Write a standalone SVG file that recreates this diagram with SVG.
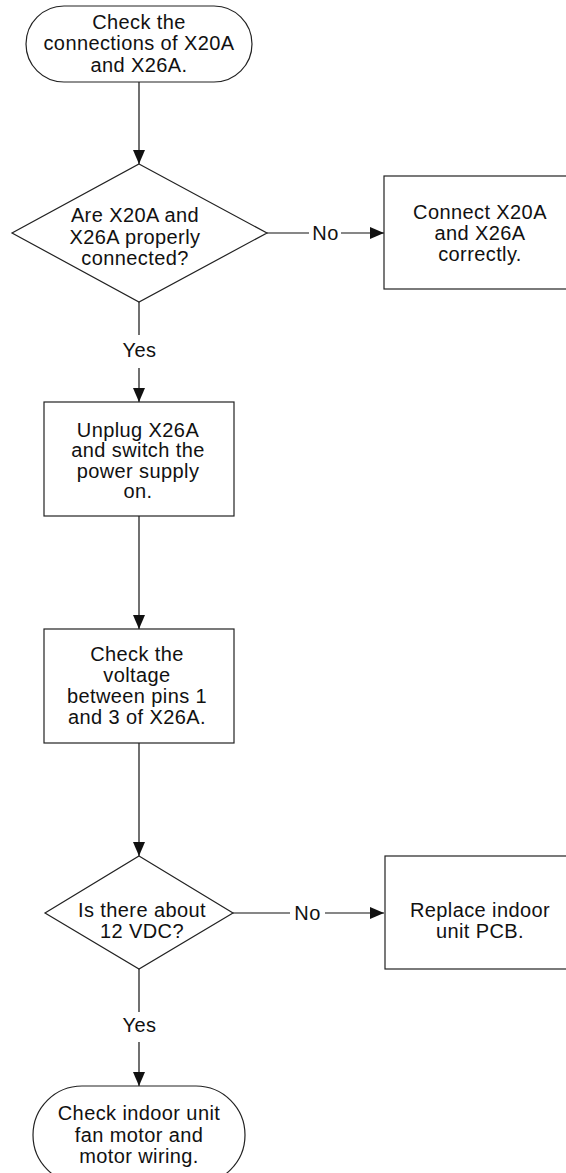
<svg xmlns="http://www.w3.org/2000/svg" width="566" height="1173" viewBox="0 0 566 1173">
  <defs>
    <marker id="arrow" markerUnits="userSpaceOnUse" markerWidth="14" markerHeight="12" viewBox="0 0 14 12" refX="14" refY="6" orient="auto">
      <path d="M0,0 L14,6 L0,12 Z" fill="#111"/>
    </marker>
    <style>
      .shape { fill: #fff; stroke: #222; stroke-width: 1.2; }
      .line { fill: none; stroke: #111; stroke-width: 1.2; }
      .arrow { fill: none; stroke: #111; stroke-width: 1.2; marker-end: url(#arrow); }
      text { font-family: "Liberation Sans", Arial, sans-serif; font-size: 20px; letter-spacing: 0.4px; fill: #111; text-anchor: middle; }
    </style>
  </defs>
  <rect width="566" height="1173" fill="#fff"/>

  <!-- connectors -->
  <g id="connectors">
    <line class="arrow" x1="139" y1="82" x2="139" y2="164"/>
    <line class="line" x1="267" y1="233" x2="309" y2="233"/>
    <text x="325.5" y="239.5">No</text>
    <line class="arrow" x1="341" y1="233" x2="384" y2="233"/>
    <line class="line" x1="139" y1="302" x2="139" y2="335"/>
    <text x="139.5" y="357">Yes</text>
    <line class="arrow" x1="139" y1="368" x2="139" y2="402"/>
    <line class="arrow" x1="139" y1="516" x2="139" y2="629"/>
    <line class="arrow" x1="139" y1="743" x2="139" y2="856"/>
    <line class="line" x1="233" y1="913" x2="290" y2="913"/>
    <text x="307.5" y="919.5">No</text>
    <line class="arrow" x1="325" y1="913" x2="384" y2="913"/>
    <line class="line" x1="139" y1="969" x2="139" y2="1012"/>
    <text x="139.5" y="1032">Yes</text>
    <line class="arrow" x1="139" y1="1042" x2="139" y2="1086"/>
  </g>

  <!-- start: check connections -->
  <g id="start">
    <rect class="shape" x="26" y="6" width="226" height="76" rx="38" ry="38"/>
    <text x="139" y="28.5">Check the</text>
    <text x="139" y="50">connections of X20A</text>
    <text x="139" y="71.5">and X26A.</text>
  </g>

  <!-- decision: connectors seated -->
  <g id="decision-connected">
    <polygon class="shape" points="139,164 267,233 139,302 12,233"/>
    <text x="135" y="222">Are X20A and</text>
    <text x="135" y="243.5">X26A properly</text>
    <text x="135" y="265">connected?</text>
  </g>

  <!-- action: reconnect -->
  <g id="reconnect">
    <rect class="shape" x="384" y="176" width="192" height="113"/>
    <text x="480" y="219">Connect X20A</text>
    <text x="480" y="240">and X26A</text>
    <text x="480" y="261">correctly.</text>
  </g>

  <!-- action: unplug and power on -->
  <g id="unplug">
    <rect class="shape" x="44" y="402" width="190" height="114"/>
    <text x="138" y="436.5">Unplug X26A</text>
    <text x="138" y="457">and switch the</text>
    <text x="138" y="477.5">power supply</text>
    <text x="138" y="498">on.</text>
  </g>

  <!-- action: measure voltage -->
  <g id="measure">
    <rect class="shape" x="44" y="629" width="190" height="114"/>
    <text x="137" y="661">Check the</text>
    <text x="137" y="681.5">voltage</text>
    <text x="137" y="703">between pins 1</text>
    <text x="137" y="724">and 3 of X26A.</text>
  </g>

  <!-- decision: 12 VDC present -->
  <g id="decision-voltage">
    <polygon class="shape" points="139,856 233,913 139,969 45,913"/>
    <text x="142" y="917">Is there about</text>
    <text x="142" y="938">12 VDC?</text>
  </g>

  <!-- action: replace PCB -->
  <g id="replace-pcb">
    <rect class="shape" x="385" y="856" width="191" height="113"/>
    <text x="480" y="917">Replace indoor</text>
    <text x="480" y="938">unit PCB.</text>
  </g>

  <!-- end: check fan motor -->
  <g id="end">
    <rect class="shape" x="33" y="1086" width="212" height="98" rx="49" ry="49"/>
    <text x="139" y="1120">Check indoor unit</text>
    <text x="139" y="1141.5">fan motor and</text>
    <text x="139" y="1163">motor wiring.</text>
  </g>
</svg>
